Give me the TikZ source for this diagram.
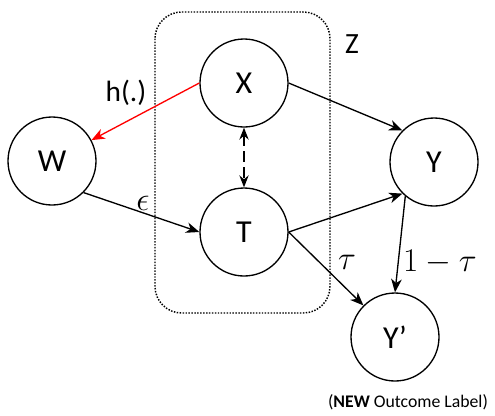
\documentclass[tikz,border=0pt]{standalone}
\usepackage{amsmath, amssymb}
\usepackage{fontspec}
\setmainfont{Carlito}
\usetikzlibrary{arrows.meta}

\begin{document}
\begin{tikzpicture}[x=0.75pt, y=-0.75pt,
        var/.style={draw, circle, line width=1pt, minimum size=66pt, inner sep=0pt, font=\fontsize{24}{28}\selectfont},
        edge/.style={line width=1pt, -{Stealth[length=10pt, width=8pt, inset=3pt]}},
        lab/.style={font=\fontsize{22}{26}\selectfont}]
        \useasboundingbox (0, 0) rectangle (495, 415);
        % plate Z
        \draw [dotted, line width=1.1pt, dash pattern=on 1.1pt off 1.1pt, rounded corners=20pt] (155, 12) rectangle (330, 313);
        \node [lab] (zlab) at (352, 44) {Z};

        \node [var] (x) at (244, 83) {X};
        \node [var] (t) at (244, 232) {T};
        \node [var] (w) at (52, 161) {W};
        \node [var] (y) at (434, 162) {Y};
        \node [var] (yy) at (395, 337) {Y’};

        \draw [edge, red] (x.west) -- (w);
        \draw [edge] (x.east) -- (y.135);
        \draw [edge, dash pattern=on 8pt off 4pt, {Stealth[length=9pt, width=7pt, inset=3pt]}-{Stealth[length=9pt, width=7pt, inset=3pt]}] (x.south) -- (t.north);
        \draw [edge] (w.-45) -- (t.west);
        \draw [edge] (t.east) -- (y.225);
        \draw [edge] (t.east) -- (yy.135);
        \draw [edge] (y.230) -- (yy.north);

        \node [lab] (hlab) at (126, 93) {h(.)};
        \node [font=\fontsize{23}{26}\selectfont] (elab) at (143, 203) {$\epsilon$};
        \node [font=\fontsize{24}{28}\selectfont] (tlab) at (347, 262) {$\tau$};
        \node [font=\fontsize{24}{28}\selectfont] (ttlab) at (440, 262) {$1-\tau$};
        \node [font=\fontsize{13.3}{16}\selectfont] (note) at (408, 402) {(\textbf{NEW} Outcome Label)};
    \end{tikzpicture}
\end{document}
